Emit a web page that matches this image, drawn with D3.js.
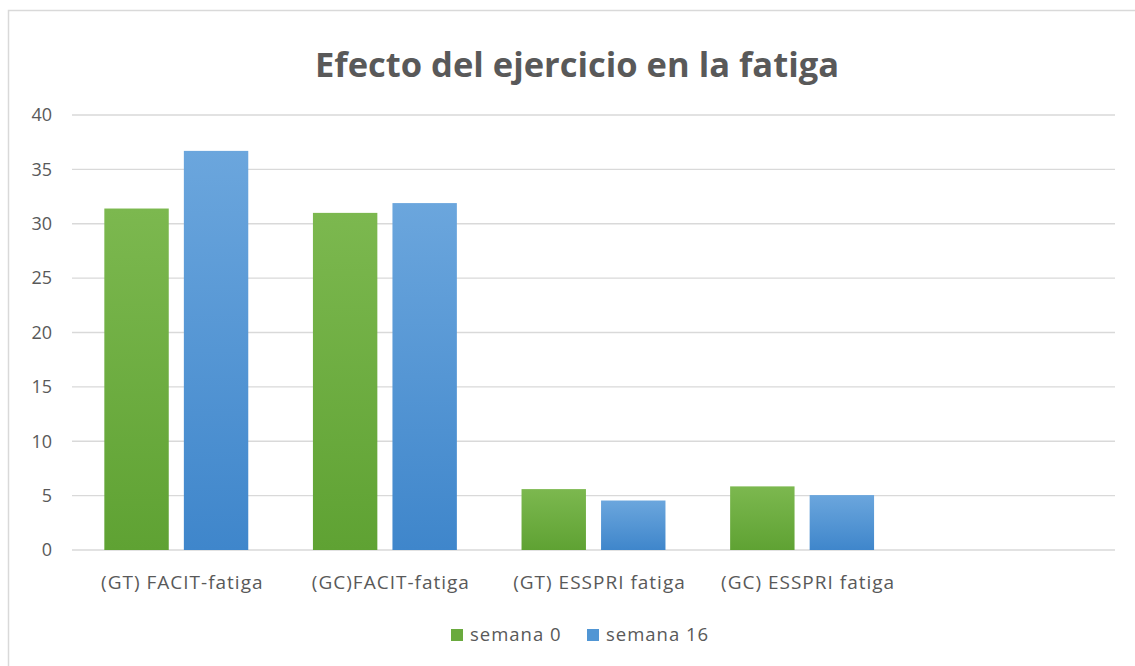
<!DOCTYPE html>
<html>
<head>
<meta charset="utf-8">
<script src="https://cdn.jsdelivr.net/npm/d3@7"></script>
<style>
  body { margin: 0; background: #fff; }
  text { font-family: "Open Sans", "Noto Sans", sans-serif; fill: #595959; }
</style>
</head>
<body>
<div id="chart"></div>
<script>
var categories = ["(GT) FACIT-fatiga", "(GC)FACIT-fatiga", "(GT) ESSPRI fatiga", "(GC) ESSPRI fatiga"];
var seriesNames = ["semana 0", "semana 16"];
var semana0 = [31.4, 31.0, 5.6, 5.85];
var semana16 = [36.7, 31.9, 4.55, 5.05];
var yTicks = [0, 5, 10, 15, 20, 25, 30, 35, 40];

var width = 1135, height = 666;
var svg = d3.select("#chart").append("svg").attr("width", width).attr("height", height);

var defs = svg.append("defs");
function grad(id, top, bottom) {
  var g = defs.append("linearGradient").attr("id", id).attr("x1", 0).attr("y1", 0).attr("x2", 0).attr("y2", 1);
  g.append("stop").attr("offset", "0%").attr("stop-color", top);
  g.append("stop").attr("offset", "100%").attr("stop-color", bottom);
}
grad("g-green", "#7cb84f", "#5fa233");
grad("g-blue", "#6ba6dd", "#3f86cb");
var fills = ["url(#g-green)", "url(#g-blue)"];
var legendColors = ["#6aaa3e", "#5196d4"];

// frame
svg.append("rect").attr("x", 8.5).attr("y", 10.5).attr("width", 1140).attr("height", 670)
  .attr("fill", "none").attr("stroke", "#d9d9d9").attr("stroke-width", 1.5);

// title
svg.append("text").attr("x", 577).attr("y", 77).attr("text-anchor", "middle")
  .style("font-size", "34.5px").style("font-weight", "bold")
  .text("Efecto del ejercicio en la fatiga");

var x = d3.scaleBand().domain(categories.concat([""])).range([72, 1115]).paddingInner(0.31).paddingOuter(0.155);
var xs = d3.scaleBand().domain([0, 1]).range([0, x.bandwidth()]).paddingInner(0.19);
var y = d3.scaleLinear().domain([0, 40]).range([550, 115]);

// gridlines
svg.append("g").selectAll("line").data(yTicks).enter().append("line")
  .attr("x1", 72).attr("x2", 1115)
  .attr("y1", function(d) { return y(d); }).attr("y2", function(d) { return y(d); })
  .attr("stroke", "#d9d9d9").attr("stroke-width", 1.3);

// y labels
svg.append("g").selectAll("text").data(yTicks).enter().append("text")
  .attr("x", 52).attr("y", function(d) { return y(d); }).attr("dy", "0.35em")
  .attr("text-anchor", "end").style("font-size", "18px")
  .text(function(d) { return d; });

// bars
var rows = categories.map(function(c, i) { return {cat: c, vals: [semana0[i], semana16[i]]}; });
var group = svg.append("g").selectAll("g").data(rows).enter().append("g")
  .attr("transform", function(d) { return "translate(" + x(d.cat) + ",0)"; });
group.selectAll("rect").data(function(d) { return d.vals; }).enter().append("rect")
  .attr("x", function(d, i) { return xs(i); })
  .attr("width", xs.bandwidth())
  .attr("y", function(d) { return y(d); })
  .attr("height", function(d) { return y(0) - y(d); })
  .attr("fill", function(d, i) { return fills[i]; });

// category labels
svg.append("g").selectAll("text").data(categories).enter().append("text")
  .attr("x", function(d) { return x(d) + x.bandwidth() / 2 + 6; })
  .attr("y", 582).attr("dy", "0.35em").attr("text-anchor", "middle")
  .style("font-size", "19px").style("letter-spacing", "1px")
  .text(function(d) { return d; });

// legend
var legendX = [451, 587];
var leg = svg.append("g").selectAll("g").data(seriesNames).enter().append("g")
  .attr("transform", function(d, i) { return "translate(" + legendX[i] + ",629)"; });
leg.append("rect").attr("width", 12).attr("height", 12).attr("fill", function(d, i) { return legendColors[i]; });
leg.append("text").attr("x", 19).attr("y", 6).attr("dy", "0.35em")
  .style("font-size", "18.5px").style("letter-spacing", "1px")
  .text(function(d) { return d; });
</script>
</body>
</html>
